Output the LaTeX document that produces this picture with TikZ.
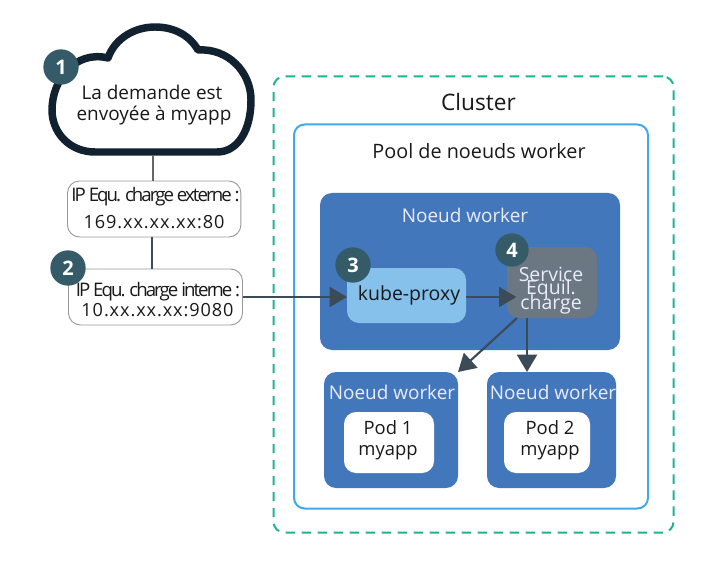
\documentclass[tikz,border=0pt]{standalone}
\usepackage{fontspec}
\setmainfont{Open Sans}
\newfontfamily\tightfont[LetterSpace=-10.5]{Open Sans}
\newfontfamily\wideipfont[LetterSpace=5]{Open Sans}
\usetikzlibrary{arrows.meta}
\definecolor{navy}{HTML}{11212F}
\definecolor{teal1}{HTML}{355B68}
\definecolor{arrowc}{HTML}{3B4C58}
\definecolor{workerb}{HTML}{4377BC}
\definecolor{kubeb}{HTML}{85C1EA}
\definecolor{lbb}{HTML}{6B7882}
\definecolor{poolc}{HTML}{3FA9EE}
\definecolor{clusterc}{HTML}{1DB393}
\newcommand{\fs}[1]{\fontsize{#1}{#1}\selectfont}
\tikzset{
  x=0.75pt,y=-0.75pt,
  box/.style={rectangle,rounded corners=9pt,inner sep=0pt,outer sep=0pt,anchor=north west},
  ipbox/.style={box,draw=black!40,line width=0.7pt,fill=white},
  workerbox/.style={box,fill=workerb},
  badge/.style={circle,fill=teal1,text=white,inner sep=0pt,font=\fs{15}\bfseries},
  lbl/.style={inner sep=0pt,align=center,text=black!90},
  wlbl/.style={inner sep=0pt,align=center,text=white!92!blue},
  flow/.style={line width=1.6pt,draw=arrowc,-{Triangle[length=13pt,width=15pt]}},
}
\begin{document}
\begin{tikzpicture}
\useasboundingbox (0,0) rectangle (720,577);
\fill[white] (0,0) rectangle (720,577);
% cluster and pool
\node[box,draw=clusterc,line width=1.5pt,dash pattern=on 7pt off 5pt,minimum width=300pt,minimum height=342pt,rounded corners=8pt] (cluster) at (273.5,76.5) {};
\node[box,draw=poolc,line width=1.5pt,fill=white,minimum width=265.5pt,minimum height=288pt,rounded corners=8pt] (pool) at (294,124.5) {};
\node[lbl] (clustert) at (478.5,102) {\fs{17}Cluster};
\node[lbl] (poolt) at (479,151) {\fs{14.85}Pool de noeuds worker};
% worker main
\node[workerbox,minimum width=225pt,minimum height=117.75pt] (wmain) at (320,193) {};
\node[wlbl] (wmaint) at (465,215) {\fs{14.2}Noeud worker};
\node[box,fill=kubeb,minimum width=89.25pt,minimum height=41.25pt] (kube) at (347,268) {};
\node[lbl] (kubet) at (409,295) {\fs{14.6}kube-proxy};
\node[box,fill=lbb,minimum width=67.5pt,minimum height=53.25pt] (lb) at (507,247) {};
\node[wlbl] (lbt1) at (551,274) {\fs{14.6}Service};
\node[wlbl] (lbt2) at (551,289) {\fs{14.6}Equil.};
\node[wlbl] (lbt3) at (551,304) {\fs{14.6}charge};
% bottom workers
\node[workerbox,minimum width=100.5pt,minimum height=87pt] (w1) at (324,372) {};
\node[workerbox,minimum width=96.75pt,minimum height=87pt] (w2) at (487,372) {};
\node[wlbl] (w1t) at (392,392) {\fs{14.2}Noeud worker};
\node[wlbl] (w2t) at (553,392) {\fs{14.2}Noeud worker};
\node[box,fill=white,minimum width=67.5pt,minimum height=45.75pt] (p1) at (344,412) {};
\node[box,fill=white,minimum width=64.5pt,minimum height=45.75pt] (p2) at (504,412) {};
\node[lbl] (p1t) at (388,428) {\fs{13.8}Pod 1};
\node[lbl] (p1u) at (388,453) {\fs{13.8}myapp};
\node[lbl] (p2t) at (550,428) {\fs{13.8}Pod 2};
\node[lbl] (p2u) at (550,453) {\fs{13.8}myapp};
% cloud
\draw[navy,line width=5.6pt,fill=white,line join=round]
  (95,152) .. controls (70,152) and (52,133) .. (52,110)
  .. controls (52,80) and (75,50) .. (108,58)
  .. controls (115,38) and (135,27) .. (155,27)
  .. controls (175,27) and (190,36) .. (198,50)
  .. controls (228,48) and (251,72) .. (251,100)
  .. controls (251,130) and (238,152) .. (217,152) -- cycle;
\coordinate (cloudb) at (153,156);
\node[lbl] (cloudt) at (152,92) {\fs{14.2}La demande est};
\node[lbl] (cloudu) at (154,116) {\fs{14.2}envoyée à myapp};
% IP boxes
\node[ipbox,minimum width=130pt,minimum height=42pt] (ext) at (67.5,181) {};
\node[ipbox,minimum width=130.5pt,minimum height=42pt] (int) at (68.5,269) {};
\node[lbl] (extt) at (155.5,197) {\tightfont\fs{14}IP Equ. charge externe :};
\node[lbl] (extu) at (154,222) {\wideipfont\fs{13.6}169.xx.xx.xx:80};
\node[lbl] (intt) at (158,292) {\tightfont\fs{14}IP Equ. charge interne :};
\node[lbl] (intu) at (157.5,310) {\wideipfont\fs{13.6}10.xx.xx.xx:9080};
% connectors
\draw[line width=1pt,draw=black!60] (cloudb) -- (ext.north -| cloudb);
\draw[line width=1.3pt,draw=arrowc] (ext.south -| 152,0) -- (int.north -| 152,0);
\draw[flow] (int.east |- 0,297) -- (kube.west |- 0,297);
\draw[flow,shorten >=-7pt] (kube.east |- 0,297) -- (lb.west |- 0,297);
\draw[flow] (lb.south west) ++(10,0) coordinate (lbd) (lbd) -- (w1.north east);
\draw[flow] (lb.south -| 527,0) -- (w2.north -| 527,0);
% badges
\node[badge,minimum size=26.5pt] (b1) at (61,67) {1};
\node[badge,minimum size=26.5pt] (b2) at (68,268) {2};
\node[badge,minimum size=26.5pt] (b3) at (353,265) {3};
\node[badge,minimum size=25pt] (b4) at (512,250) {4};
\end{tikzpicture}
\end{document}
